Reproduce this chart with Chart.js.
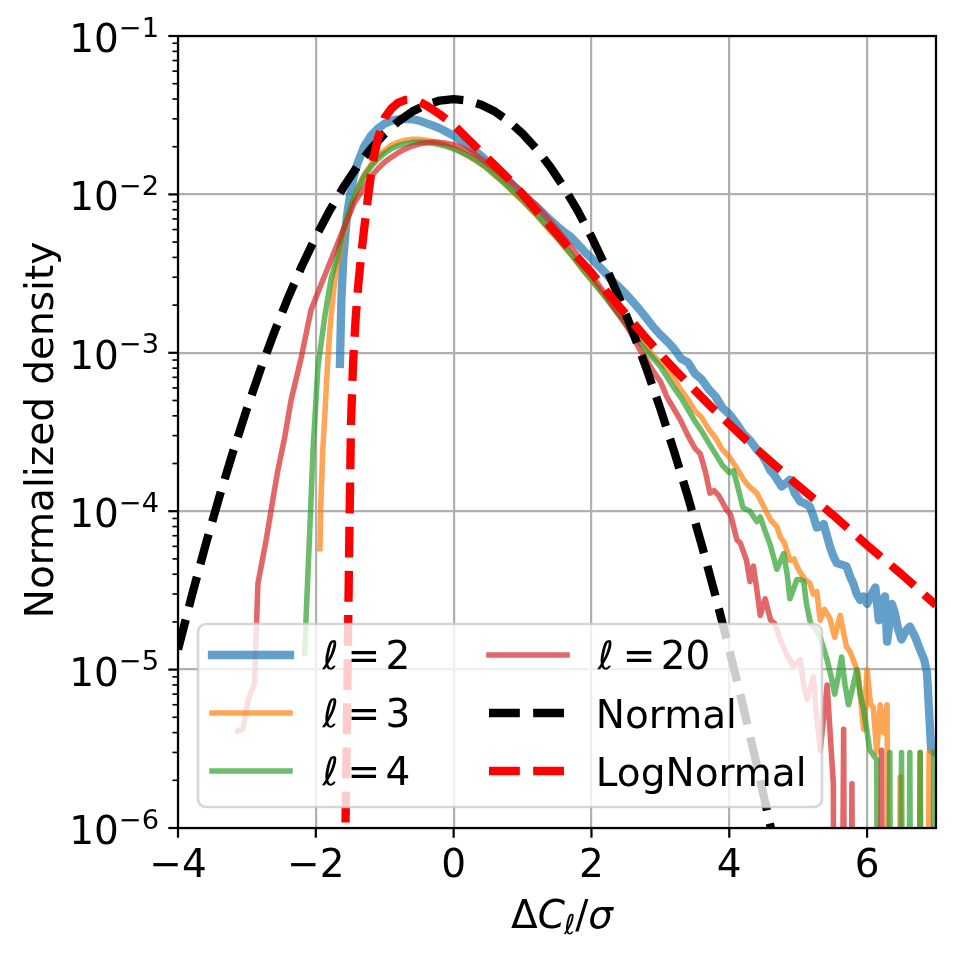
<!DOCTYPE html>
<html><head><meta charset="utf-8">
<script src="https://cdn.jsdelivr.net/npm/chart.js@4.4.1/dist/chart.umd.min.js"></script>
<style>html,body{margin:0;padding:0;background:#fff;}#wrap{width:955px;height:956px;}canvas{display:block;}</style>
</head><body><div id="wrap"><canvas id="c" width="955" height="956" style="width:955px;height:956px"></canvas></div>
<script>
// ---------- data ----------
const xTicks = [-4, -2, 0, 2, 4, 6];
const yTickExps = [-6, -5, -4, -3, -2, -1];
const ellValues = [2, 3, 4, 20];
const curveLabels = ['Normal', 'LogNormal'];
const xTitle = 'ΔCℓ/σ';
const yTitle = 'Normalized density';

const l2X = [-1.65,-1.63,-1.60,-1.55,-1.50,-1.45,-1.40,-1.30,-1.20,-1.10,-1.00,-0.90,-0.80,-0.70,-0.60,-0.50,-0.40,-0.30,-0.20,-0.10,0.00,0.10,0.20,0.30,0.40,0.50,0.60,0.70,0.80,0.90,1.00,1.10,1.20,1.30,1.40,1.50,1.60,1.70,1.80,1.90,2.00,2.10,2.20,2.30,2.40,2.50,2.60,2.70,2.80,2.90,3.00,3.10,3.20,3.30,3.40,3.50,3.60,3.70,3.80,3.90,4.00,4.10,4.20,4.30,4.40,4.45,4.52,4.60,4.65,4.76,4.82,4.88,4.95,5.03,5.10,5.17,5.22,5.27,5.32,5.37,5.46,5.51,5.56,5.63,5.70,5.76,5.80,5.85,5.90,5.95,6.00,6.05,6.12,6.17,6.21,6.26,6.29,6.36,6.40,6.45,6.50,6.56,6.62,6.70,6.77,6.83,6.87,6.93,6.98];
const l2Y = [8.5e-4,2.1e-3,4.0e-3,7.2e-3,1.0e-2,1.3e-2,1.55e-2,2.0e-2,2.35e-2,2.6e-2,2.8e-2,2.92e-2,2.98e-2,3.0e-2,2.98e-2,2.92e-2,2.82e-2,2.72e-2,2.61e-2,2.48e-2,2.35e-2,2.2e-2,2.05e-2,1.9e-2,1.75e-2,1.6e-2,1.46e-2,1.33e-2,1.21e-2,1.1e-2,1.0e-2,9.1e-3,8.4e-3,7.6e-3,6.9e-3,6.3e-3,5.8e-3,5.4e-3,4.85e-3,4.35e-3,3.95e-3,3.55e-3,3.2e-3,2.85e-3,2.6e-3,2.35e-3,2.1e-3,1.87e-3,1.65e-3,1.45e-3,1.3e-3,1.18e-3,1.06e-3,9.2e-4,8.7e-4,7.4e-4,6.8e-4,5.9e-4,5.3e-4,4.5e-4,4.1e-4,3.6e-4,3.1e-4,2.8e-4,2.45e-4,2.35e-4,2.1e-4,1.8e-4,1.7e-4,1.43e-4,1.5e-4,1.58e-4,1.3e-4,1.15e-4,1.12e-4,1.07e-4,9.3e-5,7.9e-5,8.0e-5,8.3e-5,6.0e-5,5.2e-5,4.7e-5,4.6e-5,4.5e-5,3.8e-5,3.5e-5,3.0e-5,2.75e-5,2.9e-5,2.6e-5,2.9e-5,3.3e-5,2.05e-5,2.7e-5,2.9e-5,1.5e-5,2.6e-5,2.3e-5,1.8e-5,1.55e-5,1.75e-5,1.87e-5,1.6e-5,1.33e-5,1.15e-5,9.5e-6,3.1e-6,3.0e-6];

const l3X = [-1.94,-1.93,-1.90,-1.87,-1.83,-1.80,-1.75,-1.70,-1.60,-1.50,-1.40,-1.30,-1.20,-1.10,-1.00,-0.90,-0.80,-0.70,-0.60,-0.50,-0.40,-0.30,-0.20,-0.10,0.00,0.10,0.20,0.30,0.40,0.50,0.60,0.70,0.80,0.90,1.00,1.10,1.20,1.30,1.40,1.50,1.60,1.70,1.80,1.90,2.00,2.10,2.20,2.30,2.40,2.50,2.60,2.70,2.80,2.90,3.00,3.10,3.20,3.30,3.40,3.50,3.60,3.70,3.80,3.90,4.00,4.10,4.20,4.25,4.30,4.40,4.45,4.50,4.60,4.69,4.74,4.80,4.88,4.94,4.98,5.03,5.10,5.17,5.22,5.27,5.32,5.38,5.46,5.53,5.61,5.70,5.75,5.80,5.87,5.90,5.95,6.00,6.05,6.09,6.14,6.19,6.24,6.29,6.35,6.42,6.48,6.55,6.62,6.70,6.77,6.83,6.90,6.96];
const l3Y = [5.8e-5,1.0e-4,2.4e-4,4.0e-4,8.5e-4,1.33e-3,2.3e-3,3.4e-3,5.6e-3,8.0e-3,1.07e-2,1.33e-2,1.54e-2,1.74e-2,1.9e-2,2.05e-2,2.14e-2,2.2e-2,2.23e-2,2.23e-2,2.2e-2,2.16e-2,2.1e-2,2.03e-2,1.95e-2,1.86e-2,1.76e-2,1.66e-2,1.55e-2,1.44e-2,1.32e-2,1.21e-2,1.1e-2,1.0e-2,9.1e-3,8.2e-3,7.4e-3,6.6e-3,5.9e-3,5.3e-3,4.7e-3,4.2e-3,3.7e-3,3.25e-3,2.9e-3,2.58e-3,2.28e-3,2.0e-3,1.76e-3,1.55e-3,1.38e-3,1.22e-3,1.08e-3,9.6e-4,8.7e-4,7.9e-4,6.8e-4,5.8e-4,5.1e-4,4.3e-4,3.9e-4,3.3e-4,2.9e-4,2.45e-4,2.2e-4,1.9e-4,1.6e-4,1.5e-4,1.42e-4,1.3e-4,1.18e-4,1.07e-4,8.8e-5,8.0e-5,6.9e-5,6.3e-5,4.9e-5,5.0e-5,4.5e-5,4.1e-5,3.7e-5,3.5e-5,3.0e-5,3.1e-5,2.05e-5,2.4e-5,2.1e-5,1.6e-5,2.2e-5,1.4e-5,1.3e-5,1.15e-5,9.5e-6,7.0e-6,4.2e-6,1.0e-5,6.0e-6,5.8e-6,3.0e-6,6.0e-6,4.0e-6,6.0e-6,0,0,2.1e-6,0,0,0,3.0e-6,0,3.0e-6,0];

const l4X = [-2.16,-2.14,-2.09,-2.04,-1.97,-1.87,-1.78,-1.70,-1.60,-1.50,-1.40,-1.30,-1.20,-1.10,-1.00,-0.90,-0.80,-0.70,-0.60,-0.50,-0.40,-0.30,-0.20,-0.10,0.00,0.10,0.20,0.30,0.40,0.50,0.60,0.70,0.80,0.90,1.00,1.10,1.20,1.30,1.40,1.50,1.60,1.70,1.80,1.90,2.00,2.10,2.20,2.30,2.40,2.50,2.60,2.70,2.80,2.90,3.00,3.10,3.20,3.30,3.40,3.50,3.60,3.70,3.80,3.90,4.00,4.06,4.11,4.20,4.30,4.40,4.45,4.52,4.59,4.64,4.69,4.74,4.79,4.84,4.88,4.94,4.98,5.03,5.08,5.12,5.18,5.25,5.32,5.42,5.48,5.53,5.58,5.63,5.68,5.73,5.80,5.85,5.90,5.95,6.04,6.14,6.19,6.26,6.33,6.38,6.45,6.50,6.56,6.62,6.68,6.77,6.83,6.90,6.97];
const l4Y = [1.26e-5,2.2e-5,7.2e-5,2.45e-4,8.1e-4,1.7e-3,2.9e-3,3.9e-3,6.0e-3,8.3e-3,1.07e-2,1.3e-2,1.5e-2,1.67e-2,1.82e-2,1.95e-2,2.03e-2,2.09e-2,2.13e-2,2.14e-2,2.13e-2,2.1e-2,2.06e-2,2.01e-2,1.94e-2,1.86e-2,1.77e-2,1.67e-2,1.56e-2,1.45e-2,1.33e-2,1.22e-2,1.11e-2,1.01e-2,9.2e-3,8.3e-3,7.5e-3,6.7e-3,6.0e-3,5.35e-3,4.75e-3,4.2e-3,3.7e-3,3.25e-3,2.88e-3,2.55e-3,2.25e-3,1.97e-3,1.72e-3,1.52e-3,1.33e-3,1.16e-3,1.03e-3,9.2e-4,8.2e-4,7.0e-4,6.0e-4,5.2e-4,4.4e-4,3.7e-4,3.2e-4,2.7e-4,2.3e-4,1.95e-4,1.75e-4,1.8e-4,1.5e-4,1.05e-4,1.0e-4,8.6e-5,9.2e-5,7.5e-5,6.2e-5,5.2e-5,4.3e-5,4.8e-5,5.4e-5,4.0e-5,2.8e-5,3.3e-5,3.7e-5,3.7e-5,3.6e-5,2.6e-5,1.95e-5,1.8e-5,1.6e-5,1.15e-5,9.0e-6,7.0e-6,9.0e-6,1.2e-5,8.0e-6,6.0e-6,8.0e-6,1.0e-5,7.0e-6,5.6e-6,3.1e-6,2.7e-6,0,0,3.0e-6,0,0,3.0e-6,0,3.0e-6,0,3.0e-6,0,0,3.0e-6];

const l20X = [-3.13,-3.06,-2.98,-2.89,-2.84,-2.72,-2.60,-2.55,-2.45,-2.36,-2.21,-2.07,-1.97,-1.78,-1.68,-1.55,-1.44,-1.30,-1.20,-1.10,-1.00,-0.90,-0.80,-0.70,-0.60,-0.50,-0.40,-0.30,-0.20,-0.10,0.00,0.10,0.20,0.30,0.40,0.50,0.60,0.70,0.80,0.90,1.00,1.10,1.20,1.30,1.40,1.50,1.60,1.70,1.80,1.90,2.00,2.10,2.20,2.30,2.40,2.50,2.60,2.70,2.80,2.90,3.00,3.10,3.20,3.30,3.40,3.50,3.58,3.65,3.72,3.78,3.85,3.96,4.02,4.11,4.16,4.25,4.30,4.35,4.40,4.45,4.52,4.60,4.66,4.74,4.83,4.93,5.03,5.08,5.13,5.22,5.27,5.32,5.42,5.51,5.56,5.66,5.71,5.78,5.83,5.95,6.10,6.21,6.26,6.50,6.80,7.00];
const l20Y = [4.1e-6,4.2e-6,6.5e-6,8.2e-6,3.5e-5,6.6e-5,1.36e-4,1.82e-4,2.95e-4,5.0e-4,9.4e-4,1.86e-3,2.4e-3,3.85e-3,4.95e-3,6.8e-3,8.9e-3,1.1e-2,1.3e-2,1.45e-2,1.6e-2,1.72e-2,1.84e-2,1.94e-2,2.02e-2,2.08e-2,2.12e-2,2.14e-2,2.13e-2,2.1e-2,2.06e-2,1.99e-2,1.9e-2,1.8e-2,1.68e-2,1.56e-2,1.45e-2,1.35e-2,1.24e-2,1.13e-2,1.03e-2,9.4e-3,8.5e-3,7.6e-3,6.8e-3,6.0e-3,5.3e-3,4.7e-3,4.1e-3,3.55e-3,3.1e-3,2.7e-3,2.35e-3,2.0e-3,1.75e-3,1.5e-3,1.27e-3,1.05e-3,9.0e-4,7.6e-4,6.6e-4,5.2e-4,4.4e-4,3.7e-4,3.0e-4,2.5e-4,2.3e-4,1.8e-4,1.3e-4,1.35e-4,1.25e-4,1.02e-4,9.5e-5,6.6e-5,6.3e-5,4.9e-5,3.6e-5,4.5e-5,3.2e-5,2.2e-5,2.8e-5,2.05e-5,1.95e-5,1.55e-5,1.25e-5,1.05e-5,1.15e-5,8.0e-6,6.5e-6,9.0e-6,5.0e-6,3.1e-6,8.0e-6,1.9e-6,0,4.2e-6,0,1.9e-6,0,0,0,3.1e-6,0,0,0,0];

const normX = [-4.0,-3.8,-3.6,-3.4,-3.2,-3.0,-2.8,-2.6,-2.4,-2.2,-2.0,-1.8,-1.6,-1.4,-1.2,-1.0,-0.8,-0.6,-0.4,-0.2,0.0,0.2,0.4,0.6,0.8,1.0,1.2,1.4,1.6,1.8,2.0,2.2,2.4,2.6,2.8,3.0,3.2,3.4,3.6,3.8,4.0,4.2,4.4,4.6,4.8];
const normY = [1.339e-5,2.92e-5,6.12e-5,1.233e-4,2.384e-4,4.433e-4,7.916e-4,1.359e-3,2.240e-3,3.548e-3,5.400e-3,7.896e-3,1.109e-2,1.497e-2,1.942e-2,2.420e-2,2.897e-2,3.333e-2,3.683e-2,3.911e-2,3.99e-2,3.911e-2,3.683e-2,3.333e-2,2.897e-2,2.420e-2,1.942e-2,1.497e-2,1.109e-2,7.896e-3,5.400e-3,3.548e-3,2.240e-3,1.359e-3,7.916e-4,4.433e-4,2.384e-4,1.233e-4,6.12e-5,2.92e-5,1.339e-5,5.895e-6,2.495e-6,1.015e-6,3.97e-7];

const lnX = [-1.60,-1.57,-1.55,-1.53,-1.51,-1.49,-1.46,-1.42,-1.38,-1.34,-1.30,-1.24,-1.18,-1.10,-1.00,-0.90,-0.80,-0.70,-0.60,-0.50,-0.40,-0.20,0.00,0.20,0.40,0.60,0.80,1.00,1.20,1.40,1.60,1.80,2.00,2.25,2.50,2.75,3.00,3.25,3.50,3.75,4.00,4.25,4.50,5.00,5.50,6.00,6.50,7.00];
const lnY = [3e-7,1.0e-6,4.0e-6,2.0e-5,9.0e-5,3.5e-4,8.5e-4,1.7e-3,2.8e-3,4.2e-3,6.0e-3,9.8e-3,1.55e-2,2.25e-2,3.05e-2,3.5e-2,3.8e-2,3.95e-2,3.97e-2,3.85e-2,3.65e-2,3.2e-2,2.75e-2,2.25e-2,1.85e-2,1.52e-2,1.25e-2,1.0e-2,7.9e-3,6.3e-3,5.0e-3,4.0e-3,3.2e-3,2.35e-3,1.75e-3,1.3e-3,9.8e-4,7.5e-4,5.8e-4,4.5e-4,3.55e-4,2.8e-4,2.25e-4,1.45e-4,9.5e-5,6.1e-5,4.0e-5,2.55e-5];

// ---------- helpers ----------
const LOG_FLOOR = 1e-12; // empty bins are sent far below the axis, as a log plot clips them
function pts(xs, ys) { return xs.map((x, i) => ({ x: x, y: ys[i] > 0 ? ys[i] : LOG_FLOOR })); }

const DPI = 200 / 72;
const FONT = 'DejaVu Sans';
const FS = 39;
const C_BLUE = 'rgba(31,119,180,0.7)', C_ORANGE = 'rgba(255,127,14,0.7)',
      C_GREEN = 'rgba(44,160,44,0.7)', C_RED = 'rgba(214,39,40,0.7)';
const DASH = [3.7 * 3 * DPI, 1.6 * 3 * DPI];

const series = [
  { data: pts(l2X, l2Y), color: C_BLUE, w: 3 * DPI, dash: [] },
  { data: pts(l3X, l3Y), color: C_ORANGE, w: 2 * DPI, dash: [] },
  { data: pts(l4X, l4Y), color: C_GREEN, w: 2 * DPI, dash: [] },
  { data: pts(l20X, l20Y), color: C_RED, w: 2 * DPI, dash: [] },
  { data: pts(normX, normY), color: '#000000', w: 3 * DPI, dash: DASH },
  { data: pts(lnX, lnY), color: '#ff0000', w: 3 * DPI, dash: DASH }
];
const seriesNames = ellValues.map(v => 'ℓ = ' + v).concat(curveLabels);

const datasets = series.map((s, i) => ({
  label: seriesNames[i],
  data: s.data,
  borderColor: s.color,
  backgroundColor: s.color,
  borderWidth: s.w,
  borderDash: s.dash,
  borderCapStyle: s.dash.length ? 'butt' : 'square',
  borderJoinStyle: 'round',
  pointRadius: 0,
  pointHoverRadius: 0,
  fill: false,
  tension: 0,
  clip: 0,
  order: series.length - i
}));

function minus(n) { return (n < 0 ? '\u2212' : '') + Math.abs(n); }

function drawLegend(ctx) {
  ctx.save();
  const bx = 198, by = 624, bw = 624, bh = 183, r = 8;
  ctx.beginPath();
  ctx.moveTo(bx + r, by); ctx.lineTo(bx + bw - r, by); ctx.arcTo(bx + bw, by, bx + bw, by + r, r);
  ctx.lineTo(bx + bw, by + bh - r); ctx.arcTo(bx + bw, by + bh, bx + bw - r, by + bh, r);
  ctx.lineTo(bx + r, by + bh); ctx.arcTo(bx, by + bh, bx, by + bh - r, r);
  ctx.lineTo(bx, by + r); ctx.arcTo(bx, by, bx + r, by, r); ctx.closePath();
  ctx.fillStyle = 'rgba(255,255,255,0.8)'; ctx.fill();
  ctx.strokeStyle = 'rgba(204,204,204,0.8)'; ctx.lineWidth = 2.6; ctx.stroke();

  const rows = [655, 713, 771];
  const cols = [{ h0: 212, h1: 290, tx: 323.5 }, { h0: 489, h1: 567, tx: 598.8 }];
  series.forEach((s, i) => {
    const col = cols[Math.floor(i / 3)], y = rows[i % 3];
    ctx.beginPath();
    ctx.setLineDash(s.dash);
    ctx.lineDashOffset = 0;
    ctx.lineCap = s.dash.length ? 'butt' : 'square';
    ctx.strokeStyle = s.color; ctx.lineWidth = s.w;
    ctx.moveTo(col.h0, y); ctx.lineTo(col.h1, y); ctx.stroke();
    ctx.setLineDash([]);
    ctx.fillStyle = '#000'; ctx.textBaseline = 'alphabetic'; ctx.textAlign = 'left';
    const base = y + 14;
    if (i < ellValues.length) {
      ctx.font = 'italic ' + FS + 'px "' + FONT + '"';
      ctx.fillText('ℓ', col.tx - 1, base);
      ctx.font = FS + 'px "' + FONT + '"';
      ctx.fillText('=', col.tx + 24, base);
      ctx.fillText(String(ellValues[i]), col.tx + 62, base);
    } else {
      ctx.font = FS + 'px "' + FONT + '"';
      ctx.fillText(curveLabels[i - ellValues.length], col.tx - 3, base + 0.5);
    }
  });
  ctx.restore();
}

function drawAxes(chart) {
  const ctx = chart.ctx, a = chart.chartArea;
  const xs = chart.scales.x, ys = chart.scales.y;
  ctx.save();
  ctx.strokeStyle = '#000'; ctx.fillStyle = '#000';
  // spines
  ctx.lineWidth = 0.8 * DPI; ctx.lineCap = 'square'; ctx.setLineDash([]);
  ctx.strokeRect(a.left, a.top, a.right - a.left, a.bottom - a.top);
  ctx.lineCap = 'butt';
  // x ticks
  const majL = 3.5 * DPI, minL = 2 * DPI;
  ctx.lineWidth = 0.8 * DPI;
  xTicks.forEach(v => { const px = xs.getPixelForValue(v); ctx.beginPath(); ctx.moveTo(px, a.bottom); ctx.lineTo(px, a.bottom + majL); ctx.stroke(); });
  yTickExps.forEach(e => { const py = ys.getPixelForValue(Math.pow(10, e)); ctx.beginPath(); ctx.moveTo(a.left - majL, py); ctx.lineTo(a.left, py); ctx.stroke(); });
  ctx.lineWidth = 0.6 * DPI;
  for (let e = yTickExps[0]; e < yTickExps[yTickExps.length - 1]; e++) {
    for (let k = 2; k <= 9; k++) {
      const py = ys.getPixelForValue(k * Math.pow(10, e));
      ctx.beginPath(); ctx.moveTo(a.left - minL, py); ctx.lineTo(a.left, py); ctx.stroke();
    }
  }
  // x tick labels
  ctx.font = FS + 'px "' + FONT + '"'; ctx.textAlign = 'center'; ctx.textBaseline = 'alphabetic';
  xTicks.forEach(v => ctx.fillText(minus(v), xs.getPixelForValue(v), a.bottom + 49));
  // y tick labels 10^e
  const right = a.left - 19;
  const sfs = FS * 0.7;
  yTickExps.forEach(e => {
    const py = ys.getPixelForValue(Math.pow(10, e));
    ctx.textAlign = 'left';
    ctx.font = FS + 'px "' + FONT + '"'; const w1 = ctx.measureText('10').width;
    ctx.font = sfs + 'px "' + FONT + '"'; const sup = minus(e); const w2 = ctx.measureText(sup).width;
    const x0 = right - w1 - w2;
    ctx.font = FS + 'px "' + FONT + '"'; ctx.fillText('10', x0, py + 16);
    ctx.font = sfs + 'px "' + FONT + '"'; ctx.fillText(sup, x0 + w1, py + 0.5);
  });
  // y title
  ctx.save();
  ctx.translate(53, (a.top + a.bottom) / 2 - 2);
  ctx.rotate(-Math.PI / 2);
  ctx.textAlign = 'center'; ctx.font = FS + 'px "' + FONT + '"';
  ctx.fillText(yTitle, 0, 0);
  ctx.restore();
  // x title: Δ C_ℓ / σ (math style)
  ctx.textAlign = 'left';
  let x = 511; const b = 928;
  ctx.font = FS + 'px "' + FONT + '"'; ctx.fillText(xTitle[0], x, b); x += ctx.measureText(xTitle[0]).width;
  ctx.font = 'italic ' + FS + 'px "' + FONT + '"'; ctx.fillText(xTitle[1], x, b); x += ctx.measureText(xTitle[1]).width;
  ctx.font = 'italic ' + sfs + 'px "' + FONT + '"'; ctx.fillText(xTitle[2], x - 1, b + 5.5); x += ctx.measureText(xTitle[2]).width;
  ctx.font = FS + 'px "' + FONT + '"'; ctx.fillText(xTitle[3], x - 1, b); x += ctx.measureText(xTitle[3]).width;
  ctx.font = 'italic ' + FS + 'px "' + FONT + '"'; ctx.fillText(xTitle[4], x - 1, b);
  ctx.restore();
}

const mplPlugin = {
  id: 'mpl',
  afterDatasetsDraw(chart) { drawLegend(chart.ctx); },
  afterDraw(chart) { drawAxes(chart); }
};

Chart.defaults.font.family = FONT;
new Chart(document.getElementById('c'), {
  type: 'line',
  data: { datasets: datasets },
  options: {
    responsive: false,
    animation: false,
    devicePixelRatio: 1,
    events: [],
    layout: { padding: { top: 36, right: 19, bottom: 0, left: 0 } },
    plugins: { legend: { display: false }, tooltip: { enabled: false }, title: { display: false } },
    scales: {
      x: {
        type: 'linear', min: -4, max: 7, position: 'bottom',
        afterBuildTicks: s => { s.ticks = xTicks.map(v => ({ value: v })); },
        afterFit: s => { s.height = 128; },
        ticks: { display: false },
        grid: { color: '#b0b0b0', lineWidth: 0.8 * DPI, drawTicks: false },
        border: { display: false }
      },
      y: {
        type: 'logarithmic', min: 1e-6, max: 1e-1, position: 'left',
        afterBuildTicks: s => { s.ticks = yTickExps.map(e => ({ value: Math.pow(10, e) })); },
        afterFit: s => { s.width = 178; },
        ticks: { display: false },
        grid: { color: '#b0b0b0', lineWidth: 0.8 * DPI, drawTicks: false },
        border: { display: false }
      }
    }
  },
  plugins: [mplPlugin]
});
</script>
</body></html>
